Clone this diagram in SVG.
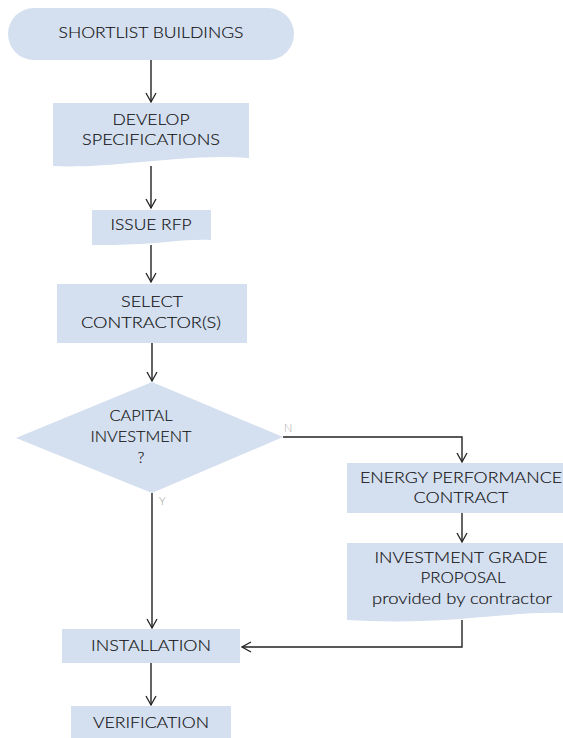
<svg xmlns="http://www.w3.org/2000/svg" width="563" height="738" viewBox="0 0 563 738">
<defs>
<marker id="arr" markerWidth="12" markerHeight="12" refX="10" refY="6" orient="auto" markerUnits="userSpaceOnUse">
<path d="M1,1 L10,6 L1,11" fill="none" stroke="#222" stroke-width="1.3"/>
</marker>
<style>
.n{fill:#d4dfef;stroke:none}
.t{font-family:Lato,"Open Sans","Liberation Sans",sans-serif;font-size:16px;font-weight:300;fill:#111;stroke:#111;stroke-width:0.15;text-anchor:middle;dominant-baseline:central}
.l{font-family:Lato,"Liberation Sans",sans-serif;font-size:11px;font-weight:300;fill:#999}
.c{fill:none;stroke:#222;stroke-width:1.4}
</style>
</defs>
<rect width="563" height="738" fill="#fff"/>
<g id="connectors">
<path class="c" d="M151,60 V102" marker-end="url(#arr)"/>
<path class="c" d="M151,166 V208" marker-end="url(#arr)"/>
<path class="c" d="M151,245 V282" marker-end="url(#arr)"/>
<path class="c" d="M152,343 V381" marker-end="url(#arr)"/>
<path class="c" d="M283,437 H462 V462" marker-end="url(#arr)"/>
<path class="c" d="M462,513 V542" marker-end="url(#arr)"/>
<path class="c" d="M462,620 V647 H242" marker-end="url(#arr)"/>
<path class="c" d="M152,493 V628" marker-end="url(#arr)"/>
<path class="c" d="M151,663 V705" marker-end="url(#arr)"/>
<text class="l" x="284" y="432">N</text>
<text class="l" x="159" y="505">Y</text>
</g>
<g id="shortlist">
<rect class="n" x="8" y="8" width="286" height="52" rx="26" ry="26"/>
<text class="t" x="151" y="31.5" textLength="185" lengthAdjust="spacingAndGlyphs">SHORTLIST BUILDINGS</text>
</g>
<g id="develop">
<path class="n" d="M53,103 H249 V158 C210,155 170,160 130,163 C100,166 75,167 53,166 Z"/>
<text class="t" x="151" y="118.5" textLength="77" lengthAdjust="spacingAndGlyphs">DEVELOP</text>
<text class="t" x="151" y="138.5" textLength="138" lengthAdjust="spacingAndGlyphs">SPECIFICATIONS</text>
</g>
<g id="rfp">
<path class="n" d="M92,210 H211 V240 C185,239 165,243 140,244 C120,245 105,245 92,245 Z"/>
<text class="t" x="151" y="223.5" textLength="81" lengthAdjust="spacingAndGlyphs">ISSUE RFP</text>
</g>
<g id="select">
<rect class="n" x="57" y="284" width="190" height="59"/>
<text class="t" x="152" y="300.5" textLength="62" lengthAdjust="spacingAndGlyphs">SELECT</text>
<text class="t" x="151" y="321.5" textLength="140" lengthAdjust="spacingAndGlyphs">CONTRACTOR(S)</text>
</g>
<g id="capital">
<polygon class="n" points="152,382 283,437 152,493 16,438"/>
<text class="t" x="141" y="414.5" textLength="63" lengthAdjust="spacingAndGlyphs">CAPITAL</text>
<text class="t" x="141" y="435.5" textLength="101" lengthAdjust="spacingAndGlyphs">INVESTMENT</text>
<text class="t" x="141" y="456.5">?</text>
</g>
<g id="epc">
<rect class="n" x="347" y="463" width="216" height="50"/>
<text class="t" x="461" y="476.5" textLength="202" lengthAdjust="spacingAndGlyphs">ENERGY PERFORMANCE</text>
<text class="t" x="461" y="496.5" textLength="95" lengthAdjust="spacingAndGlyphs">CONTRACT</text>
</g>
<g id="igp">
<path class="n" d="M347,543 H563 V613 C530,612 500,616 460,619 C420,622 380,622 347,620 Z"/>
<text class="t" x="461" y="556.5" textLength="173" lengthAdjust="spacingAndGlyphs">INVESTMENT GRADE</text>
<text class="t" x="463" y="576.5" textLength="85" lengthAdjust="spacingAndGlyphs">PROPOSAL</text>
<text class="t" x="462" y="597.5" textLength="180" lengthAdjust="spacingAndGlyphs">provided by contractor</text>
</g>
<g id="installation">
<rect class="n" x="62" y="629" width="178" height="34"/>
<text class="t" x="151" y="644.5" textLength="120" lengthAdjust="spacingAndGlyphs">INSTALLATION</text>
</g>
<g id="verification">
<rect class="n" x="71" y="706" width="160" height="32"/>
<text class="t" x="151" y="721.5" textLength="116" lengthAdjust="spacingAndGlyphs">VERIFICATION</text>
</g>
</svg>
